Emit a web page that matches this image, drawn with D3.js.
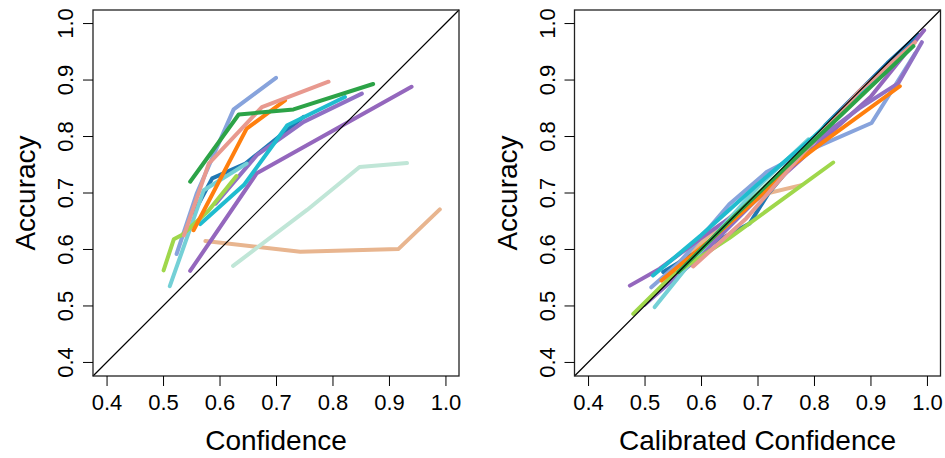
<!DOCTYPE html>
<html><head><meta charset="utf-8">
<script src="https://cdn.jsdelivr.net/npm/d3@7"></script>
<style>body{margin:0;background:#fff}svg{display:block}text{font-family:"Liberation Sans",Arial,sans-serif;fill:#000}</style>
</head><body><div id="chart"></div>
<script>
const ticks = [0.4, 0.5, 0.6, 0.7, 0.8, 0.9, 1.0];
const tickLabels = ["0.4","0.5","0.6","0.7","0.8","0.9","1.0"];
const seriesNames = ["peach","mint","darkblue","lightblue","purpleA","purpleB","turquoise","lightgreen","cyan","orange","pink","green"];
const seriesColors = ["#e8b58f","#c0e6d7","#1f78b4","#87a3dc","#9467bd","#9070c4","#74d0d6","#9fd74b","#1fbccf","#ff7f0e","#e8998f","#2ca347"];

// Left panel: raw confidence vs accuracy (x values, y values per series)
const rawX = [
  [0.575,0.743,0.917,0.990],
  [0.624,0.755,0.848,0.932],
  [0.554,0.587,0.601,0.646,0.749],
  [0.524,0.560,0.625,0.700],
  [0.548,0.666,0.940],
  [0.593,0.666,0.749,0.852],
  [0.512,0.572,0.648],
  [0.501,0.519,0.534,0.580,0.630],
  [0.566,0.643,0.720,0.822],
  [0.554,0.648,0.716],
  [0.537,0.581,0.675,0.793],
  [0.548,0.634,0.731,0.872]
];
const rawY = [
  [0.615,0.596,0.601,0.671],
  [0.571,0.670,0.746,0.753],
  [0.664,0.726,0.732,0.752,0.835],
  [0.592,0.700,0.848,0.904],
  [0.562,0.735,0.888],
  [0.681,0.767,0.826,0.876],
  [0.535,0.705,0.752],
  [0.563,0.618,0.626,0.668,0.730],
  [0.645,0.714,0.820,0.870],
  [0.634,0.814,0.864],
  [0.625,0.752,0.852,0.897],
  [0.720,0.839,0.848,0.893]
];
// Right panel: calibrated confidence vs accuracy
const calX = [
  [0.539,0.620,0.695,0.778],
  [0.550,0.700,0.834],
  [0.533,0.600,0.686,0.720,0.820,0.930,0.985],
  [0.512,0.560,0.650,0.716,0.792,0.902,0.979],
  [0.474,0.527,0.600,0.700,0.800,0.900,0.995],
  [0.500,0.600,0.700,0.800,0.880,0.949,0.991],
  [0.518,0.580,0.700,0.790],
  [0.480,0.550,0.650,0.834],
  [0.515,0.600,0.700,0.800,0.900,0.960],
  [0.530,0.620,0.700,0.750,0.816,0.952],
  [0.586,0.680,0.780,0.880,0.979],
  [0.560,0.660,0.760,0.850,0.976]
];
const calY = [
  [0.558,0.630,0.694,0.714],
  [0.545,0.700,0.822],
  [0.560,0.600,0.646,0.700,0.820,0.930,0.980],
  [0.533,0.575,0.680,0.737,0.776,0.824,0.947],
  [0.536,0.566,0.620,0.690,0.780,0.870,0.988],
  [0.502,0.590,0.690,0.790,0.850,0.894,0.967],
  [0.498,0.575,0.710,0.795],
  [0.486,0.555,0.620,0.754],
  [0.554,0.625,0.715,0.800,0.893,0.950],
  [0.545,0.620,0.690,0.740,0.790,0.889],
  [0.570,0.655,0.770,0.880,0.967],
  [0.560,0.660,0.755,0.840,0.960]
];

const W = 945, H = 458;
const svg = d3.select("#chart").append("svg").attr("width", W).attr("height", H);
const dom = [0.376, 1.024];

function panel(x0, xs, ys, xlabel) {
  const x = d3.scaleLinear().domain(dom).range([x0, x0 + 366]);
  const y = d3.scaleLinear().domain(dom).range([376, 10]);
  const g = svg.append("g");
  const line = d3.line().x(d => x(d[0])).y(d => y(d[1]));
  xs.forEach((sx, i) => {
    g.append("path").datum(sx.map((v, j) => [v, ys[i][j]]))
      .attr("d", line).attr("fill", "none").attr("stroke", seriesColors[i])
      .attr("stroke-width", 4).attr("stroke-linecap", "round").attr("stroke-linejoin", "round");
  });
  g.append("line").attr("x1", x(dom[0])).attr("y1", y(dom[0])).attr("x2", x(dom[1])).attr("y2", y(dom[1]))
    .attr("stroke", "#000").attr("stroke-width", 1.2);
  g.append("rect").attr("x", x0).attr("y", 10).attr("width", 366).attr("height", 366)
    .attr("fill", "none").attr("stroke", "#222").attr("stroke-width", 1.3);
  const xa = g.append("g").attr("transform", "translate(0,376)")
    .call(d3.axisBottom(x).tickValues(ticks).tickFormat((d, i) => tickLabels[i]).tickSize(10).tickPadding(8));
  xa.select(".domain").remove();
  xa.selectAll("text").attr("font-size", 22).attr("font-family", "Liberation Sans, Arial, sans-serif");
  const ya = g.append("g").attr("transform", `translate(${x0},0)`)
    .call(d3.axisLeft(y).tickValues(ticks).tickFormat((d, i) => tickLabels[i]).tickSize(10).tickPadding(8));
  ya.select(".domain").remove();
  ya.selectAll(".tick").attr("transform", null);
  ya.selectAll(".tick line").attr("y1", d => y(d)).attr("y2", d => y(d));
  ya.selectAll("text").attr("font-size", 22).attr("font-family", "Liberation Sans, Arial, sans-serif")
    .attr("text-anchor", "middle").attr("dy", 0).attr("x", 0).attr("y", 0)
    .attr("transform", d => `translate(-20,${y(d)}) rotate(-90)`);
  g.append("text").attr("x", x0 + 183).attr("y", 450).attr("text-anchor", "middle").attr("font-size", 28).text(xlabel);
  g.append("text").attr("transform", `translate(${x0 - 58},193) rotate(-90)`).attr("text-anchor", "middle").attr("font-size", 28).text("Accuracy");
}
panel(93, rawX, rawY, "Confidence");
panel(574.5, calX, calY, "Calibrated Confidence");
</script></body></html>
